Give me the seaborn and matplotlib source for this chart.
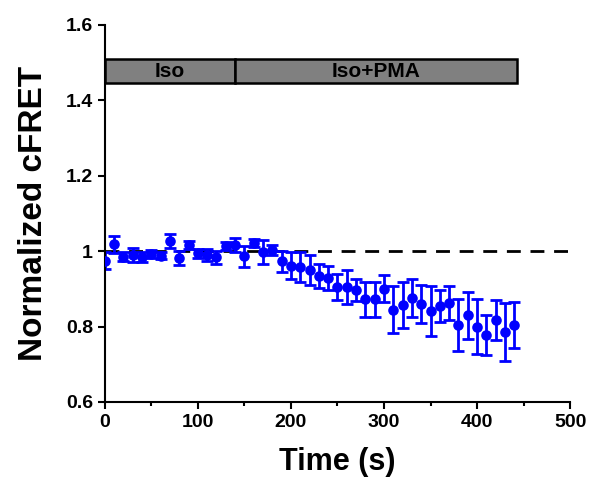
import matplotlib
matplotlib.use('Agg')
import matplotlib.pyplot as plt
import numpy as np
import pandas as pd
import seaborn as sns
from matplotlib.patches import Rectangle
from matplotlib.ticker import MultipleLocator

time_s = [0, 10, 20, 30, 40, 50, 60, 70, 80, 90,
          100, 110, 120, 130, 140, 150, 160, 170, 180, 190,
          200, 210, 220, 230, 240, 250, 260, 270, 280, 290,
          300, 310, 320, 330, 340, 350, 360, 370, 380, 390,
          400, 410, 420, 430, 440]
cfret = [0.975, 1.018, 0.985, 0.990, 0.985, 0.992, 0.988, 1.027, 0.982, 1.016,
         0.995, 0.990, 0.984, 1.014, 1.016, 0.987, 1.022, 0.997, 1.003, 0.973,
         0.962, 0.958, 0.950, 0.934, 0.928, 0.905, 0.905, 0.897, 0.872, 0.872,
         0.900, 0.845, 0.857, 0.875, 0.860, 0.842, 0.855, 0.862, 0.805, 0.830,
         0.800, 0.778, 0.817, 0.786, 0.805]
cfret_err = [0.022, 0.022, 0.012, 0.018, 0.014, 0.010, 0.010, 0.018, 0.018, 0.010,
             0.012, 0.015, 0.017, 0.010, 0.018, 0.028, 0.010, 0.032, 0.013, 0.027,
             0.037, 0.040, 0.041, 0.031, 0.032, 0.034, 0.045, 0.030, 0.046, 0.046,
             0.036, 0.062, 0.060, 0.050, 0.050, 0.066, 0.042, 0.045, 0.069, 0.062,
             0.072, 0.053, 0.053, 0.076, 0.061]

# treatment bar across the top
phase_labels = ['Iso', 'Iso+PMA']
phase_start = [0, 140]
phase_end = [140, 443]

df = pd.DataFrame({'time': time_s, 'cfret': cfret, 'err': cfret_err})

sns.set_theme(style='ticks')
plt.rcParams['font.family'] = ['Liberation Sans', 'DejaVu Sans']
plt.rcParams['font.weight'] = 'bold'

fig = plt.figure(figsize=(5.92, 4.8), dpi=100)
ax = fig.add_axes([0.177, 0.1625, 0.786, 0.7855])

ax.axhline(1.0, color='black', linestyle=(0, (5, 3.5)), linewidth=2, zorder=1)
ax.errorbar(df['time'], df['cfret'], yerr=df['err'], fmt='none', ecolor='#0000FF',
            elinewidth=2, capsize=4, capthick=2, zorder=2)
sns.scatterplot(data=df, x='time', y='cfret', ax=ax, color='#0000FF', s=58,
                edgecolor='#0000FF', linewidth=0, zorder=3)

for label, x0, x1 in zip(phase_labels, phase_start, phase_end):
    ax.add_patch(Rectangle((x0, 1.447), x1 - x0, 0.063, facecolor='#808080',
                           edgecolor='black', linewidth=1.8, zorder=4))
    ax.text((x0 + x1) / 2, 1.477, label, ha='center', va='center',
            fontsize=15, fontweight='bold', color='black', zorder=5)

ax.set_xlim(0, 500)
ax.set_ylim(0.6, 1.6)
ax.xaxis.set_major_locator(MultipleLocator(100))
ax.xaxis.set_minor_locator(MultipleLocator(50))
ax.set_yticks([0.6, 0.8, 1.0, 1.2, 1.4, 1.6])
ax.set_yticklabels(['0.6', '0.8', '1', '1.2', '1.4', '1.6'])

ax.set_xlabel('Time (s)', fontsize=22, fontweight='bold', color='black', labelpad=12)
ax.set_ylabel('Normalized cFRET', fontsize=24, fontweight='bold', color='black', labelpad=12)

sns.despine(ax=ax)
for side in ['left', 'bottom']:
    ax.spines[side].set_linewidth(1.5)
    ax.spines[side].set_color('black')
ax.tick_params(which='major', direction='out', length=5, width=1.5,
               labelsize=14, colors='black')
ax.tick_params(which='minor', direction='out', length=3, width=1.5, colors='black')
for lbl in ax.get_xticklabels() + ax.get_yticklabels():
    lbl.set_fontweight('bold')

fig.savefig('out.png', dpi=100)
plt.close(fig)
